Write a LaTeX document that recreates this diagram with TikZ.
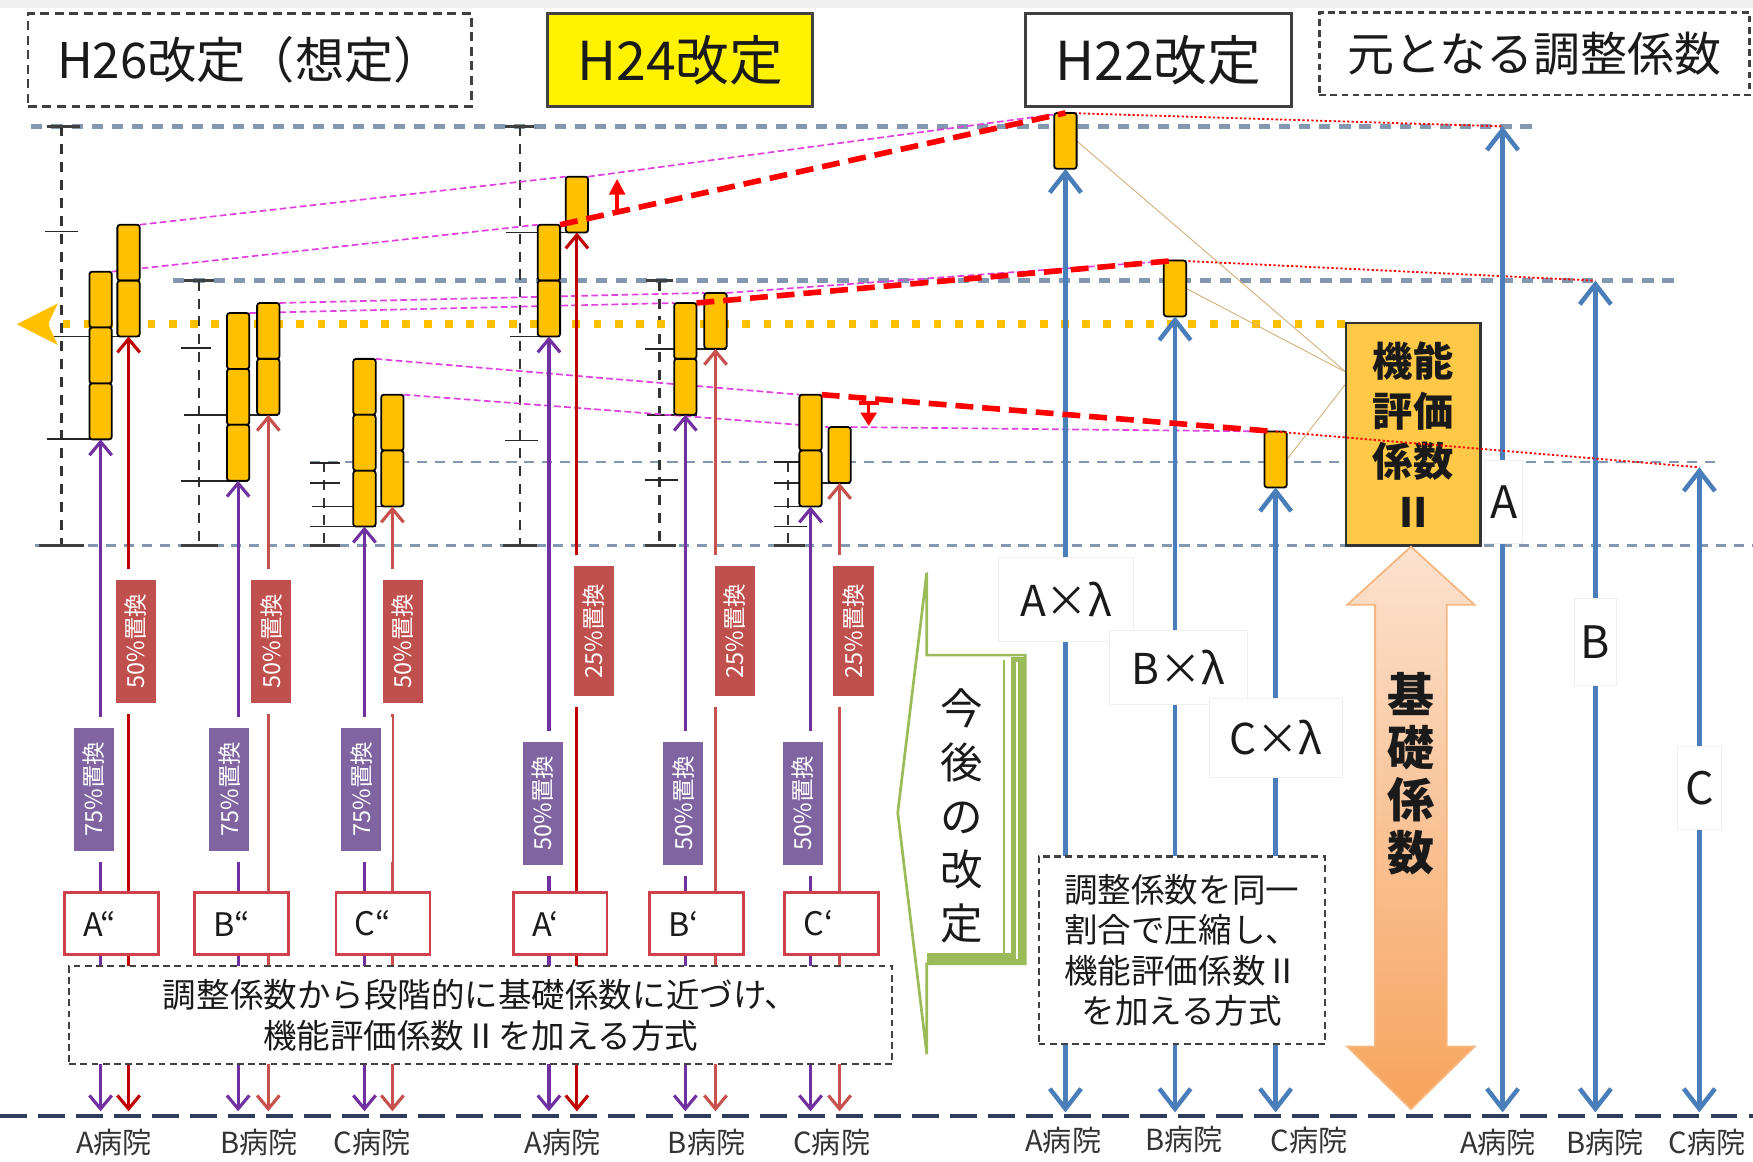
\documentclass[tikz,border=0pt]{standalone}
\usepackage{fontspec}
\setmainfont{Noto Sans CJK JP}
\usetikzlibrary{arrows.meta}
\pgfdeclarelayer{bg}
\pgfsetlayers{bg,main}
\definecolor{barfill}{HTML}{FFC000}
\definecolor{kinoufill}{HTML}{FFC846}
\definecolor{blueA}{HTML}{4A7EBB}
\definecolor{purp}{HTML}{7030A0}
\definecolor{purplab}{HTML}{8064A2}
\definecolor{redlab}{HTML}{C0504D}
\definecolor{redA}{HTML}{C00000}
\definecolor{redB}{HTML}{C8504D}
\definecolor{hospred}{HTML}{D0404C}
\definecolor{grayline}{HTML}{8497B0}
\definecolor{navyln}{HTML}{2F3D5C}
\definecolor{magent}{HTML}{E040E0}
\definecolor{tanline}{HTML}{D2B07A}
\definecolor{greenc}{HTML}{9BBB59}
\definecolor{ydot}{HTML}{FFC000}
\definecolor{peach}{HTML}{FBE2D0}
\definecolor{orng}{HTML}{F7A35C}
\definecolor{darkbord}{HTML}{404040}
\definecolor{txt}{HTML}{1A1A1A}
\tikzset{
  seg/.style={draw=black, line width=0.8pt, fill=barfill, rounded corners=1.2pt, minimum width=10pt, minimum height=25pt, inner sep=0pt, outer sep=0pt},
  tickln/.style={black!85, line width=0.8pt},
  tickth/.style={black!75, line width=1.5pt},
  vguide/.style={black!80, line width=1.1pt, dash pattern=on 4.5pt off 3.5pt},
  gline/.style={grayline, line width=2pt, dash pattern=on 5pt off 4pt},
  gthin/.style={grayline, line width=1.1pt, dash pattern=on 4.5pt off 3.5pt},
  baseln/.style={navyln, line width=1.8pt, dash pattern=on 12pt off 5pt},
  mline/.style={magent, line width=0.75pt, dash pattern=on 3pt off 1.5pt},
  rthick/.style={red, line width=2.5pt, dash pattern=on 8pt off 4pt},
  rdot/.style={red, line width=0.8pt, dash pattern=on 1pt off 1pt},
  tanln/.style={tanline, line width=0.4pt},
  yd/.style={ydot, line width=3.5pt, dash pattern=on 3.5pt off 6pt},
  smallhead/.style={{Straight Barb[length=6pt,width=10pt]}-{Straight Barb[length=6pt,width=10pt]}},
  parr/.style={purp, line width=1.4pt, smallhead},
  rarrA/.style={redA, line width=1.4pt, smallhead},
  rarrB/.style={redB, line width=1.4pt, smallhead},
  barr/.style={blueA, line width=2pt, {Straight Barb[length=9pt,width=14pt]}-{Straight Barb[length=9pt,width=14pt]}},
  plab/.style={rotate=90, fill=purplab, draw=white, line width=5pt, text=white, font=\fontsize{10.5}{12}\selectfont, minimum width=60pt, minimum height=23pt, inner sep=0pt},
  rlab/.style={rotate=90, fill=redlab, draw=white, line width=5pt, text=white, font=\fontsize{10.5}{12}\selectfont, minimum width=60pt, minimum height=23pt, inner sep=0pt},
  hosp/.style={draw=hospred, fill=white, line width=1.2pt, minimum width=42pt, minimum height=28pt, text width=25pt, inner xsep=8.5pt, align=left, font=\fontsize{14.5}{16}\selectfont, text=txt},
  hlab/.style={font=\fontsize{13}{15}\selectfont, text=black!80},
  wbox/.style={fill=white, draw=black!6, inner sep=0pt, text=txt},
  dbox/.style={fill=white, draw=darkbord, line width=1pt, dash pattern=on 3pt off 2pt, align=center, text=txt},
}
\begin{document}
\begin{tikzpicture}[x=0.5pt,y=-0.5pt]
\useasboundingbox (0,0) rectangle (1568,1039);

% ---------- bars ----------
\node[seg] (a26L1) at (90,268) {};
\node[seg] (a26L2) at (90,318) {};
\node[seg] (a26L3) at (90,368) {};
\node[seg] (a26R1) at (115,226) {};
\node[seg] (a26R2) at (115,276) {};
\node[seg] (b26L1) at (213,305) {};
\node[seg] (b26L2) at (213,355) {};
\node[seg] (b26L3) at (213,405) {};
\node[seg] (b26R1) at (240,296) {};
\node[seg] (b26R2) at (240,346) {};
\node[seg] (c26L1) at (326,346) {};
\node[seg] (c26L2) at (326,396) {};
\node[seg] (c26L3) at (326,446) {};
\node[seg] (c26R1) at (351,378) {};
\node[seg] (c26R2) at (351,428) {};
\node[seg] (a24L1) at (491,226) {};
\node[seg] (a24L2) at (491,276) {};
\node[seg] (a24R1) at (516,183) {};
\node[seg] (b24L1) at (613,296) {};
\node[seg] (b24L2) at (613,346) {};
\node[seg] (b24R1) at (640,287) {};
\node[seg] (c24L1) at (725,378) {};
\node[seg] (c24L2) at (725,428) {};
\node[seg] (c24R1) at (751,407) {};
\node[seg] (a22) at (953,126) {};
\node[seg] (b22) at (1051,258) {};
\node[seg] (c22) at (1141,411) {};

% function coefficient box
\node[draw=black!80, line width=1.2pt, fill=kinoufill, minimum width=60pt, minimum height=99.5pt, align=center, text=txt,
      font=\bfseries\fontsize{18}{22.5}\selectfont] (kinou) at (1264,388.5) {機能\\評価\\係数\\Ⅱ};

% coordinates
\coordinate (rAtop) at (1344,113);
\coordinate (rBtop) at (1427,251);
\coordinate (rCtop) at (1520,418);
\coordinate (kt1) at (1204,333);
\coordinate (kt2) at (1204,343);
\coordinate (ystart) at (1203,290);
\coordinate (yend) at (15,290);

\begin{pgfonlayer}{bg}
\fill[white] (0,0) rectangle (1568,1039);
\fill[black!6] (0,0) rectangle (1568,7);
% grid lines
\draw[gline] (28,113) -- (1372,113);
\draw[gline] (155,251) -- (1502,251);
\draw[gthin] (277,413) -- (1535,413);
\draw[gthin] (31,488) -- (1568,488);
% vertical guides
\draw[vguide] (55,113) -- (55,488);
\draw[vguide] (178,251) -- (178,488);
\draw[vguide] (290,413) -- (290,488);
\draw[vguide] (465,113) -- (465,488);
\draw[vguide] (590,251) -- (590,488);
\draw[vguide] (705,413) -- (705,488);
% ticks
\draw[tickth] (42,113) -- (72,113); \draw[tickln] (40,207) -- (70,207);
\draw[tickln] (48,301) -- (125,301); \draw[tickln] (42,393) -- (98,393);
\draw[tickth] (35,488) -- (75,488);
\draw[tickth] (165,251) -- (191,251); \draw[tickln] (162,311) -- (189,311);
\draw[tickln] (165,371) -- (249,371); \draw[tickln] (162,430) -- (222,430);
\draw[tickth] (162,488) -- (195,488);
\draw[tickln] (277,414) -- (304,414); \draw[tickln] (277,432) -- (304,432);
\draw[tickln] (279,453) -- (360,453); \draw[tickln] (277,471) -- (336,471);
\draw[tickth] (277,488) -- (304,488);
\draw[tickth] (452,113) -- (478,113); \draw[tickln] (453,208) -- (525,208);
\draw[tickln] (456,301) -- (501,301); \draw[tickln] (452,394) -- (481,394);
\draw[tickth] (450,488) -- (480,488);
\draw[tickth] (578,251) -- (602,251); \draw[tickln] (577,312) -- (649,312);
\draw[tickln] (579,371) -- (623,371); \draw[tickln] (577,429) -- (606,429);
\draw[tickth] (577,488) -- (605,488);
\draw[tickln] (692,413) -- (716,413); \draw[tickln] (692,432) -- (760,432);
\draw[tickln] (692,453) -- (734,453); \draw[tickln] (692,471) -- (722,471);
\draw[tickth] (692,488) -- (720,488);
% yellow dotted line with arrow
\draw[yd, -{Stealth[length=18pt,width=18pt,inset=4pt]}] (ystart) -- (yend);
% magenta lines
\draw[mline] (a26R1.north east) -- (a24R1.north west);
\draw[mline] (a24R1.north east) -- (a22.north);
\draw[mline] (a26L1.north east) -- (a24L1.north west);
\draw[mline] (b26R1.north east) -- (b24R1.north west);
\draw[mline] (b24R1.north east) -- (b22.north);
\draw[mline] (b26L1.north east) -- (b24L1.north west);
\draw[mline] (c26L1.north east) -- (c24L1.north west);
\draw[mline] (c26R1.north east) -- (c24R1.north west);
\draw[mline] (c24R1.north east) -- (c22.north);
% tan lines
\draw[tanln] (a22.east) -- (kt1);
\draw[tanln] (b22.east) -- (kt1);
\draw[tanln] (c22.east) -- (kt2);
% red fine dotted
\draw[rdot] (a22.north) -- (rAtop);
\draw[rdot] (b22.north) -- (rBtop);
\end{pgfonlayer}

% baseline
\draw[baseln] (0,998) -- (1568,998);

% ---------- arrows ----------
\draw[parr] (a26L3.south) -- (90,994);
\draw[rarrA] (a26R2.south) -- (115,994);
\draw[parr] (b26L3.south) -- (213,994);
\draw[rarrB] (b26R2.south) -- (240,994);
\draw[parr] (c26L3.south) -- (326,994);
\draw[rarrB] (c26R2.south) -- (351,994);
\draw[parr] (a24L2.south) -- (491,994);
\draw[rarrA] (a24R1.south) -- (516,994);
\draw[parr] (b24L2.south) -- (613,994);
\draw[rarrB] (b24R1.south) -- (640,994);
\draw[parr] (c24L2.south) -- (725,994);
\draw[rarrB] (c24R1.south) -- (751,994);
\draw[barr] (a22.south) -- (953,995);
\draw[barr] (b22.south) -- (1051,995);
\draw[barr] (c22.south) -- (1141,995);
\draw[barr] (rAtop) -- (1344,995);
\draw[barr] (rBtop) -- (1427,995);
\draw[barr] (rCtop) -- (1520,995);

% red thick dashed lines and small arrows
\draw[rthick] (a24L1.north east) -- (a22.north);
\draw[rthick] (b24L1.north east) -- (b22.north);
\draw[rthick] (c24L1.north east) -- (c22.north);
\coordinate (up1) at (552,189); \coordinate (up2) at (552,160);
\draw[red, line width=1.5pt, -{Triangle[length=7pt,width=7pt]}] (up1) -- (up2);
\coordinate (dn1) at (777,359); \coordinate (dn2) at (777,381);
\draw[red, line width=1.5pt, {Bar[width=9pt]}-{Triangle[length=6pt,width=7pt]}] (dn1) -- (dn2);

% ---------- labels on arrows ----------
\node[plab] (l1) at (84,706) {75\%置換};
\node[rlab] (l2) at (121.5,573.5) {50\%置換};
\node[plab] (l3) at (205,706) {75\%置換};
\node[rlab] (l4) at (242.5,573.5) {50\%置換};
\node[plab] (l5) at (323,706) {75\%置換};
\node[rlab] (l6) at (360.5,573.5) {50\%置換};
\node[plab] (l7) at (485.5,718.5) {50\%置換};
\node[rlab, minimum width=63pt] (l8) at (531,564.5) {25\%置換};
\node[plab] (l9) at (611,718.5) {50\%置換};
\node[rlab, minimum width=63pt] (l10) at (657.5,564.5) {25\%置換};
\node[plab] (l11) at (718,718.5) {50\%置換};
\node[rlab, minimum width=63pt] (l12) at (763.5,564.5) {25\%置換};

% hospital boxes
\node[hosp, minimum width=40.5pt] (hA2) at (99.5,826) {A“};
\node[hosp] (hB2) at (216,826) {B“};
\node[hosp] (hC2) at (342.5,826) {C“};
\node[hosp, minimum width=40pt] (hA1) at (501,826) {A‘};
\node[hosp] (hB1) at (623,826) {B‘};
\node[hosp] (hC1) at (744,826) {C‘};

% dashed text boxes
\node[dbox, minimum width=368pt, minimum height=44pt, font=\fontsize{15}{18.5}\selectfont] (expl1) at (430,908)
  {調整係数から段階的に基礎係数に近づけ、\\機能評価係数Ⅱを加える方式};
\node[dbox, minimum width=128pt, minimum height=84pt, font=\fontsize{15}{18}\selectfont] (expl2) at (1057,850)
  {調整係数を同一\\割合で圧縮し、\\機能評価係数Ⅱ\\を加える方式};

% blue arrow labels
\node[wbox, minimum width=60.5pt, minimum height=37.5pt, font=\fontsize{19}{21}\selectfont] (axl) at (953.5,536) {A×λ};
\node[wbox, minimum width=62pt, minimum height=33pt, font=\fontsize{19}{21}\selectfont] (bxl) at (1054,597) {B×λ};
\node[wbox, minimum width=59.5pt, minimum height=35pt, font=\fontsize{19}{21}\selectfont] (cxl) at (1141,660) {C×λ};
\node[wbox, minimum width=17pt, minimum height=37pt, font=\fontsize{20}{22}\selectfont] (la) at (1345,449) {A};
\node[wbox, minimum width=18.5pt, minimum height=39pt, font=\fontsize{20}{22}\selectfont] (lb) at (1427,574) {B};
\node[wbox, minimum width=20pt, minimum height=37pt, font=\fontsize{20}{22}\selectfont] (lc) at (1520,705) {C};

% orange double arrow (basic coefficient)
\path[draw=orng!70!peach, line width=0.8pt, top color=peach, bottom color=orng]
  (1262,489) -- (1319,541) -- (1294,541) -- (1294,936) -- (1319,936) -- (1262,992)
  -- (1205,936) -- (1230,936) -- (1230,541) -- (1205,541) -- cycle;
\node[font=\bfseries\fontsize{21}{23.5}\selectfont, align=center, text=txt] (kiso) at (1262,692) {基\\礎\\係\\数};

% red dotted line over the box
\draw[rdot] (c22.north) -- (rCtop);

% green callout
\path[fill=white, draw=greenc, line width=1.2pt]
  (829,512) -- (829,586) -- (917,586) -- (917,862) -- (829,862) -- (829,943) -- (803,727) -- cycle;
\fill[greenc] (904,588) rectangle (917,862);
\fill[greenc] (829,852) rectangle (917,862);
\draw[white, line width=0.9pt] (909.5,592) -- (909.5,858);
\draw[greenc, line width=0.8pt] (898,590) -- (898,852);
\node[font=\fontsize{19}{24}\selectfont, align=center, text=txt] (kongo) at (860,730) {今\\後\\の\\改\\定};

% ---------- headers ----------
\node[draw=darkbord, line width=1.2pt, dash pattern=on 4pt off 2.5pt, minimum width=198.5pt, minimum height=41.5pt,
      font=\fontsize{22}{24}\selectfont, text=txt] (h26) at (223.5,53.5) {H26改定（想定）};
\node[draw=darkbord, fill=yellow, line width=1.2pt, minimum width=118.5pt, minimum height=41.5pt,
      font=\fontsize{24}{26}\selectfont, text=txt] (h24) at (608.5,53.5) {H24改定};
\node[draw=darkbord, fill=white, line width=1.2pt, minimum width=119pt, minimum height=41.5pt,
      font=\fontsize{24}{26}\selectfont, text=txt] (h22) at (1036,53.5) {H22改定};
\node[draw=darkbord, line width=1.2pt, dash pattern=on 3pt off 2pt, minimum width=192.5pt, minimum height=37pt,
      font=\fontsize{21}{23}\selectfont, text=txt] (moto) at (1372.5,48) {元となる調整係数};

% ---------- hospital labels ----------
\node[hlab] (ha1) at (102,1022) {A病院};
\node[hlab] (hb1) at (232,1022) {B病院};
\node[hlab] (hc1) at (333,1022) {C病院};
\node[hlab] (ha2) at (503,1022) {A病院};
\node[hlab] (hb2) at (632,1022) {B病院};
\node[hlab] (hc2) at (744,1022) {C病院};
\node[hlab] (ha3) at (951,1020) {A病院};
\node[hlab] (hb3) at (1059,1019) {B病院};
\node[hlab] (hc3) at (1171,1020) {C病院};
\node[hlab] (ha4) at (1340,1022) {A病院};
\node[hlab] (hb4) at (1436,1022) {B病院};
\node[hlab] (hc4) at (1527,1022) {C病院};
\end{tikzpicture}
\end{document}
